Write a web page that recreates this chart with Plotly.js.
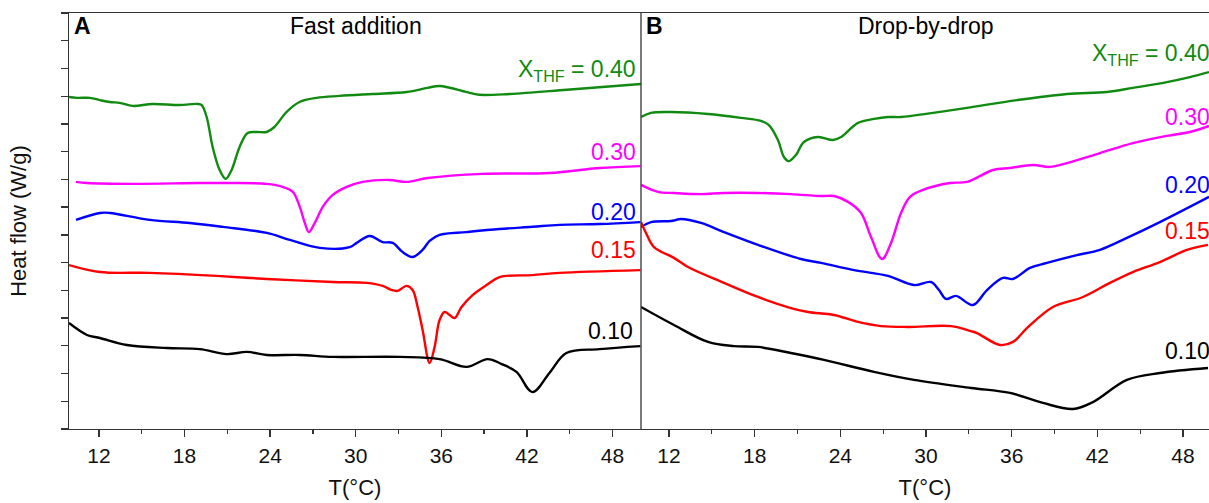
<!DOCTYPE html>
<html>
<head>
<meta charset="utf-8">
<script src="https://cdn.plot.ly/plotly-3.0.1.min.js"></script>
<style>html,body{margin:0;padding:0;background:#fff;}#chart{width:1209px;height:503px;}</style>
</head>
<body>
<div id="chart"></div>
<script>
// ---- Panel A: Fast addition (T in °C, heat flow in arbitrary offset units) ----
const A_T_040 = [9.9, 10.46, 11.37, 12.06, 12.76, 13.46, 14.37, 15.76, 17.65, 18.9, 19.2, 19.55, 19.97, 20.46, 20.88, 21.3, 21.86, 22.42, 23.05, 23.75, 24.3, 25.15, 26.06, 27.25, 28.86, 31.17, 33.57, 35.04, 35.88, 37.98, 38.68, 40.8, 44.8, 50.0];
const A_Q_040 = [11.97, 11.94, 11.94, 11.86, 11.79, 11.76, 11.65, 11.72, 11.68, 11.72, 11.68, 11.25, 10.17, 9.34, 9.02, 9.34, 10.17, 10.67, 10.71, 10.71, 10.89, 11.43, 11.79, 11.94, 12.01, 12.08, 12.15, 12.30, 12.37, 12.12, 12.05, 12.08, 12.23, 12.44];

const A_T_030 = [10.39, 11.16, 14.38, 19.07, 21.17, 23.77, 24.89, 25.59, 26.08, 26.43, 26.71, 27.13, 27.69, 28.39, 29.37, 30.49, 32.38, 33.57, 35.04, 38.89, 43.58, 47.09, 49.96];
const A_Q_030 = [8.91, 8.87, 8.84, 8.87, 8.87, 8.84, 8.73, 8.55, 8.01, 7.43, 7.10, 7.43, 8.01, 8.44, 8.73, 8.91, 8.98, 8.91, 9.05, 9.20, 9.23, 9.41, 9.48];

const A_T_020 = [10.39, 12.07, 12.77, 15.57, 18.37, 20.68, 23.77, 25.38, 27.48, 29.58, 30.07, 30.98, 31.89, 32.59, 33.29, 33.99, 34.69, 35.18, 35.88, 37.77, 40.08, 42.39, 44.28, 47.08, 49.96];
const A_Q_020 = [7.54, 7.79, 7.79, 7.54, 7.43, 7.29, 7.07, 6.82, 6.53, 6.56, 6.71, 6.96, 6.74, 6.71, 6.38, 6.20, 6.46, 6.78, 7.00, 7.10, 7.21, 7.29, 7.36, 7.39, 7.46];

const A_T_015 = [9.9, 12.07, 15.57, 20.26, 23.77, 28.39, 30.77, 31.89, 32.52, 32.94, 33.57, 33.99, 34.34, 34.69, 35.18, 35.53, 35.88, 36.23, 36.58, 36.93, 37.42, 38.19, 39.17, 40.08, 42.39, 44.28, 49.96];
const A_Q_015 = [5.91, 5.66, 5.63, 5.52, 5.41, 5.30, 5.27, 5.16, 5.01, 4.98, 5.16, 5.01, 4.40, 3.57, 2.38, 2.96, 3.93, 4.22, 4.11, 4.00, 4.40, 4.83, 5.19, 5.48, 5.55, 5.63, 5.73];

const A_T_010 = [9.9, 11.16, 12.07, 13.96, 16.76, 19.07, 20.96, 22.37, 23.77, 26.08, 28.39, 33.08, 35.88, 37.77, 39.24, 40.2, 41.27, 42.39, 43.58, 44.77, 47.08, 49.96];
const A_Q_010 = [3.82, 3.39, 3.28, 3.03, 2.92, 2.88, 2.70, 2.78, 2.67, 2.67, 2.60, 2.60, 2.52, 2.24, 2.52, 2.35, 2.06, 1.33, 2.02, 2.74, 2.88, 2.99];

// ---- Panel B: Drop-by-drop ----
const B_T_040 = [10.04, 10.74, 12.14, 14.73, 17.04, 18.44, 19.00, 19.63, 20.05, 20.40, 20.89, 21.45, 22.43, 23.49, 24.05, 25.24, 26.36, 27.34, 28.25, 30.49, 32.87, 36.37, 39.87, 42.67, 44.49, 46.87, 48.48, 49.82];
const B_Q_040 = [11.25, 11.40, 11.43, 11.36, 11.22, 11.11, 10.96, 10.42, 9.81, 9.66, 9.88, 10.35, 10.53, 10.42, 10.53, 11.04, 11.18, 11.25, 11.25, 11.40, 11.58, 11.86, 12.08, 12.15, 12.30, 12.51, 12.69, 12.87];

const B_T_030 = [10.04, 11.23, 12.35, 14.24, 15.85, 18.23, 20.54, 22.65, 23.56, 24.54, 25.45, 26.15, 26.92, 27.55, 28.25, 28.88, 29.79, 31.68, 32.87, 34.69, 35.88, 37.49, 38.68, 39.87, 42.18, 44.49, 46.87, 48.48, 49.82];
const B_Q_030 = [8.80, 8.55, 8.51, 8.47, 8.51, 8.51, 8.47, 8.40, 8.40, 8.19, 7.79, 6.92, 6.13, 6.71, 7.79, 8.37, 8.62, 8.87, 8.91, 9.34, 9.41, 9.52, 9.45, 9.59, 9.95, 10.31, 10.57, 10.71, 10.93];

const B_T_020 = [10.04, 10.74, 12.14, 12.84, 14.24, 15.85, 18.23, 21.24, 22.65, 24.96, 27.34, 29.16, 30.35, 30.91, 31.40, 32.10, 33.29, 34.27, 35.39, 36.09, 37.28, 38.47, 40.57, 42.18, 44.07, 46.38, 49.82];
const B_Q_020 = [7.28, 7.46, 7.50, 7.57, 7.43, 7.10, 6.64, 6.13, 5.99, 5.73, 5.52, 5.19, 5.30, 5.01, 4.69, 4.80, 4.47, 5.01, 5.45, 5.41, 5.81, 5.99, 6.27, 6.46, 6.89, 7.46, 8.37];

const B_T_015 = [10.04, 10.39, 10.95, 12.35, 13.33, 15.85, 18.23, 20.54, 21.73, 23.56, 25.24, 26.85, 28.74, 31.75, 33.15, 33.57, 35.18, 36.09, 37.07, 38.89, 40.99, 42.88, 44.49, 46.38, 48.28, 49.75];
const B_Q_015 = [7.46, 7.07, 6.56, 6.17, 5.84, 5.27, 4.76, 4.36, 4.22, 4.11, 3.86, 3.71, 3.68, 3.71, 3.53, 3.46, 3.03, 3.14, 3.64, 4.40, 4.76, 5.27, 5.66, 6.02, 6.46, 6.64];

const B_T_010 = [10.04, 12.35, 14.73, 16.55, 18.23, 20.54, 22.86, 26.36, 29.16, 33.15, 35.88, 38.19, 40.29, 41.69, 44.07, 46.38, 49.75];
const B_Q_010 = [4.40, 3.75, 3.14, 2.99, 2.96, 2.74, 2.49, 2.06, 1.77, 1.48, 1.30, 0.94, 0.72, 0.97, 1.77, 2.02, 2.20];

const xTicks = [12, 18, 24, 30, 36, 42, 48];
const seriesLabels = ['X<sub>THF</sub> = 0.40', '0.30', '0.20', '0.15', '0.10'];
const seriesColors = ['#108a10', '#ff00ff', '#0000ff', '#ff0000', '#000000'];

const FONT = 'Liberation Sans, Arial, sans-serif';
const panelA = [[A_T_040, A_Q_040], [A_T_030, A_Q_030], [A_T_020, A_Q_020], [A_T_015, A_Q_015], [A_T_010, A_Q_010]];
const panelB = [[B_T_040, B_Q_040], [B_T_030, B_Q_030], [B_T_020, B_Q_020], [B_T_015, B_Q_015], [B_T_010, B_Q_010]];

const traces = [];
panelA.forEach((d, i) => traces.push({x: d[0], y: d[1], xaxis: 'x', yaxis: 'y', mode: 'lines',
  line: {color: seriesColors[i], width: 2.4, shape: 'spline', smoothing: 1.0}, showlegend: false, hoverinfo: 'skip'}));
panelB.forEach((d, i) => traces.push({x: d[0], y: d[1], xaxis: 'x2', yaxis: 'y', mode: 'lines',
  line: {color: seriesColors[i], width: 2.4, shape: 'spline', smoothing: 1.0}, showlegend: false, hoverinfo: 'skip'}));

const split = 572 / 1140;
function xax(domain, range) {
  return {domain: domain, range: range, anchor: 'y', tickmode: 'array', tickvals: xTicks,
    ticks: 'outside', ticklen: 7, tickwidth: 1.3, tickcolor: '#333',
    minor: {dtick: 3, tick0: 0, ticks: 'outside', ticklen: 4, tickwidth: 1.3, tickcolor: '#333'},
    showline: true, mirror: true, linecolor: '#333', linewidth: 1.3, showgrid: false, zeroline: false,
    tickfont: {family: FONT, size: 21, color: '#111'},
    title: {text: 'T(°C)', font: {family: FONT, size: 22, color: '#111'}, standoff: 14}};
}

// label positions: [y value, right edge in paper]
const labA = [[12.91, 0.4991], [9.99, 0.4991], [7.83, 0.4991], [6.46, 0.4991], [3.53, 0.4965]];
const labB = [[13.49, 1.003], [11.25, 1.003], [8.80, 1.003], [7.14, 1.003], [2.81, 1.003]];
const annotations = [];
[labA, labB].forEach(lab => lab.forEach((p, i) => annotations.push({
  text: seriesLabels[i], xref: 'paper', yref: 'y', x: p[1], y: p[0], xanchor: 'right', yanchor: 'middle',
  showarrow: false, font: {family: FONT, size: 23, color: seriesColors[i]}})));
annotations.push({text: '<b>A</b>', xref: 'paper', yref: 'paper', x: 0.003, y: 0.969, xanchor: 'left', yanchor: 'middle', showarrow: false, font: {family: FONT, size: 23, color: '#000'}});
annotations.push({text: 'Fast addition', xref: 'paper', yref: 'paper', x: 0.2518, y: 0.969, xanchor: 'center', yanchor: 'middle', showarrow: false, font: {family: FONT, size: 23, color: '#000'}});
annotations.push({text: '<b>B</b>', xref: 'paper', yref: 'paper', x: split + 0.003, y: 0.969, xanchor: 'left', yanchor: 'middle', showarrow: false, font: {family: FONT, size: 23, color: '#000'}});
annotations.push({text: 'Drop-by-drop', xref: 'paper', yref: 'paper', x: 0.7518, y: 0.969, xanchor: 'center', yanchor: 'middle', showarrow: false, font: {family: FONT, size: 23, color: '#000'}});

const layout = {
  width: 1209, height: 503,
  margin: {l: 69, r: 0, t: 13, b: 74},
  paper_bgcolor: '#fff', plot_bgcolor: '#fff',
  xaxis: xax([0, split], [9.9, 50]),
  xaxis2: xax([split, 1], [10.04, 49.82]),
  yaxis: {range: [0, 15], tick0: 0, dtick: 1, ticks: 'outside', ticklen: 7, tickwidth: 1.3, tickcolor: '#333',
    showticklabels: false, showline: true, linecolor: '#333', linewidth: 1.3, showgrid: false, zeroline: false,
    title: {text: 'Heat flow (W/g)', font: {family: FONT, size: 22, color: '#111'}, standoff: 28}},
  shapes: [{type: 'line', xref: 'paper', yref: 'paper', x0: split, x1: split, y0: 0, y1: 1, line: {color: '#333', width: 1.3}}],
  annotations: annotations
};
Plotly.newPlot('chart', traces, layout, {staticPlot: true, displayModeBar: false});
</script>
</body>
</html>
